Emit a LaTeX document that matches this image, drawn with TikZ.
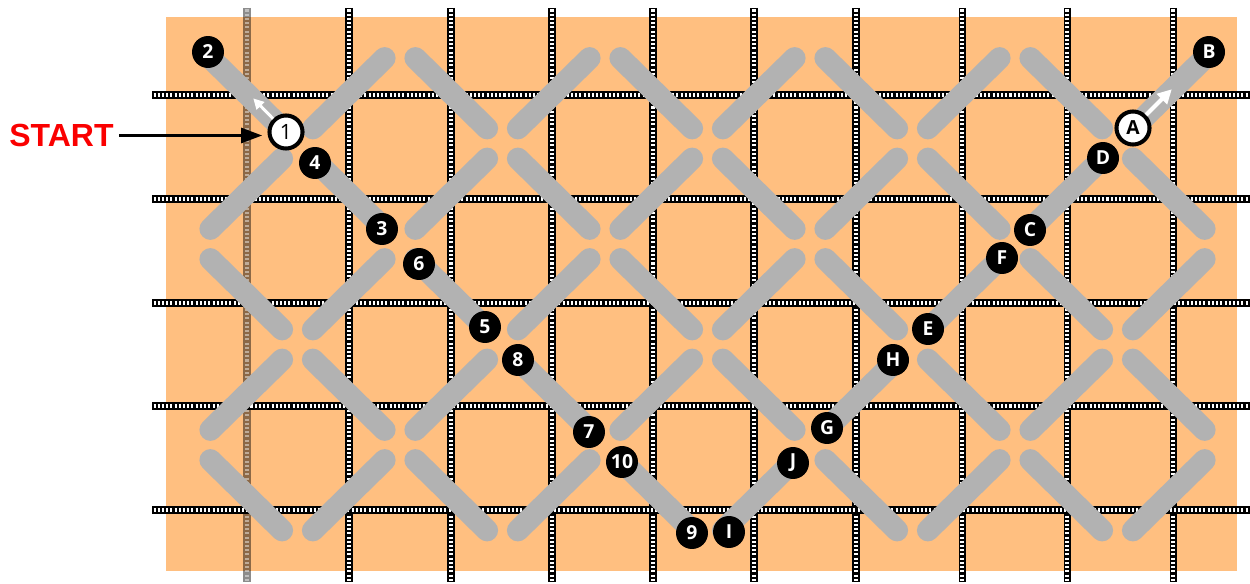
\documentclass[tikz,border=0pt]{standalone}
\usepackage{fontspec}
\setmainfont{Open Sans}
\newfontfamily\startfont{Liberation Sans}
\usetikzlibrary{arrows.meta, calc}

\definecolor{board}{RGB}{255,191,128}
\definecolor{strap}{RGB}{178,178,178}
\definecolor{startred}{RGB}{250,0,0}

\begin{document}
\begin{tikzpicture}[x=0.02cm, y=-0.02cm,
    bar/.style={line width=12.5pt, strap, line cap=round},
    rail/.style={line width=4pt, black},
    rungs/.style={line width=2pt, white, dash pattern=on 1.15pt off 1.25pt},
    knot/.style={circle, fill=black, minimum size=18.2pt, inner sep=0pt,
                 text=white, font=\fontsize{11}{11}\selectfont\bfseries},
    openknot/.style={knot, fill=white, draw=black, line width=2.3pt,
                     minimum size=18.8pt, text=black},
    arrow/.style={-{Triangle[length=12pt, width=8.5pt]}, line width=1.7pt},
    warrow/.style={-{Triangle[length=6pt, width=6pt]}, white, line width=1.7pt}]
  \useasboundingbox (0,0) rectangle (1250,584);
  \fill[board] (166,17) rectangle (1237,571);

  % ladders
  \foreach \x in {349,451,552,653,754,856,962,1067,1173}{
    \draw[rail] (\x,8) -- (\x,582);
    \draw[rungs] (\x,9.5) -- (\x,580.5);
  }
  \begin{scope}[opacity=0.45]
    \draw[rail] (247,8) -- (247,582);
    \draw[rungs] (247,9.5) -- (247,580.5);
  \end{scope}
  \foreach \y in {95,199,303,406,510}{
    \draw[rail] (152,\y) -- (1250,\y);
    \draw[rungs] (153.5,\y) -- (1250,\y);
  }

  % straps
  \foreach \i in {0,...,9}{
    \foreach \j in {0,...,5}{
      \pgfmathtruncatemacro\odd{mod(\i+\j,2)}
      \ifnum\odd=0
        \ifnum\j<5
          \draw[bar] ({210.4+102.5*\i},{58.1+100.5*\j})
                  -- ({282.1+102.5*\i},{128.4+100.5*\j});
        \fi
        \ifnum\j>0
          \draw[bar] ({210.4+102.5*\i},{27.9+100.5*\j})
                  -- ({282.1+102.5*\i},{-42.4+100.5*\j});
        \fi
      \fi
    }
  }

  % numbered path
  \node[openknot, font=\fontsize{12}{12}\selectfont] (n1) at (286,132) {1};
  \node[knot] (n2) at (208,52) {2};
  \node[knot] (n3) at (382,229) {3};
  \node[knot] (n4) at (315,163) {4};
  \node[knot] (n5) at (485,327) {5};
  \node[knot] (n6) at (419,264) {6};
  \node[knot] (n7) at (589,432) {7};
  \node[knot] (n8) at (518,360) {8};
  \node[knot] (n9) at (692,533) {9};
  \node[knot] (n10) at (622,462) {10};

  % lettered path
  \node[openknot] (nA) at (1133,128) {A};
  \node[knot] (nB) at (1209,52) {B};
  \node[knot] (nC) at (1030,230) {C};
  \node[knot] (nD) at (1103,158) {D};
  \node[knot] (nE) at (928,329) {E};
  \node[knot] (nF) at (1002,258) {F};
  \node[knot] (nG) at (827,428) {G};
  \node[knot] (nH) at (893,360) {H};
  \node[knot] (nI) at (729,532) {I};
  \node[knot] (nJ) at (793,463) {J};

  \node[text=startred, inner sep=3pt,
        font=\startfont\fontsize{18.2}{18.2}\selectfont\bfseries]
        (start) at (61.5,135.5) {START};
  \draw[arrow, shorten >=3pt] (start.east) -- (start.east -| n1.west);

  \coordinate (tip2) at ($(n1)!0.42!(n2)$);
  \draw[warrow] (n1) -- (tip2);
  \coordinate (tipB) at ($(nA)!0.51!(nB)$);
  \draw[warrow, line width=2.3pt, -{Triangle[length=8pt, width=8pt]}] (nA) -- (tipB);
\end{tikzpicture}
\end{document}
